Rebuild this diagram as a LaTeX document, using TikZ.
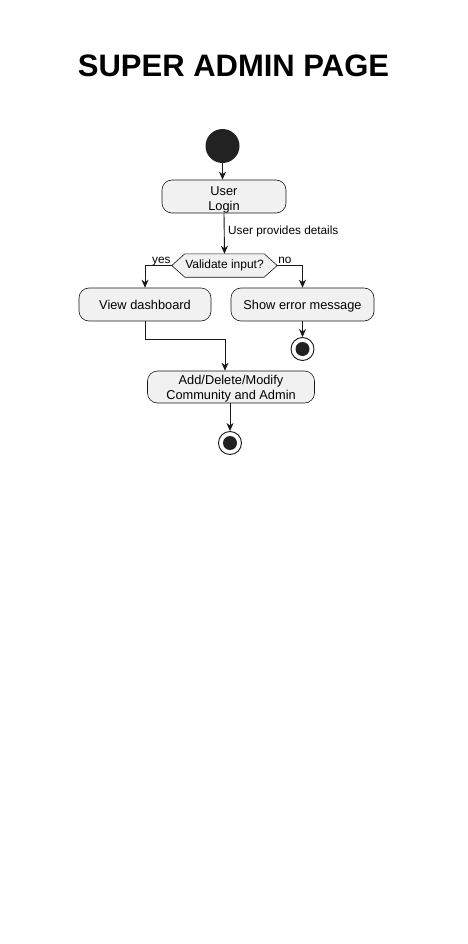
\documentclass[tikz,border=0pt]{standalone}
\usepackage{fontspec}
\setmainfont{Liberation Sans}
\usetikzlibrary{arrows.meta}
\definecolor{linec}{HTML}{181818}
\definecolor{boxfill}{HTML}{F1F1F1}
\definecolor{dotc}{HTML}{222222}
\newcommand{\mlines}[2]{\raisebox{#1}[\height][\depth]{\begin{tabular}{@{}c@{}}#2\end{tabular}}}
\begin{document}
\begin{tikzpicture}[x=1pt,y=-1pt,
  act/.style={draw=linec, fill=boxfill, rounded corners=10pt, line width=0.6pt, inner sep=0pt,
              font=\fontsize{12.8}{15}\selectfont},
  lbl/.style={font=\fontsize{11.8}{13}\selectfont, inner sep=1pt},
  arr/.style={draw=linec, line width=0.9pt, -{Stealth[length=8pt,width=7pt,inset=2.5pt]}},
  conn/.style={draw=linec, line width=0.9pt},
  endouter/.style={circle, draw=linec, line width=0.9pt, fill=white, minimum size=23pt, inner sep=0pt},
  endinner/.style={circle, fill=dotc, minimum size=14pt, inner sep=0pt}]
\useasboundingbox[fill=white] (0,0) rectangle (467,944);
\node[font=\bfseries\fontsize{31}{36}\selectfont] (title) at (233.5,66) {SUPER ADMIN PAGE};
\node[circle, fill=dotc, minimum size=34pt, inner sep=0pt] (start) at (222.5,146) {};
\node[act, minimum width=124pt, minimum height=33pt] (login) at (224,196.5) {\mlines{-3pt}{User\\Login}};
\node[minimum width=105pt, minimum height=23pt, inner sep=0pt] (dec) at (224.5,265.5) {};
\draw[draw=linec, fill=boxfill, line width=0.6pt]
  (dec.west) -- ([xshift=13pt]dec.north west) -- ([xshift=-13pt]dec.north east) -- (dec.east)
  -- ([xshift=-13pt]dec.south east) -- ([xshift=13pt]dec.south west) -- cycle;
\node[font=\fontsize{12}{14}\selectfont, inner sep=0pt] (dectext) at (dec.center) {Validate input?};
\node[act, minimum width=132pt, minimum height=33pt] (view) at (145,304.5) {\mlines{-1.5pt}{View dashboard}};
\node[act, minimum width=143pt, minimum height=33pt] (err) at (302.5,304.5) {\mlines{-1.5pt}{Show error message}};
\node[endouter] (end1) at (302.5,349) {};
\node[endinner] (end1dot) at (end1.center) {};
\node[act, minimum width=167pt, minimum height=32pt] (add) at (231,387) {\mlines{-2pt}{Add/Delete/Modify\\Community and Admin}};
\node[endouter] (end2) at (230,443) {};
\node[endinner] (end2dot) at (end2.center) {};
\coordinate (j) at (225,339);
\draw[arr] (start.south) -- (start.south |- login.north);
\draw[arr] (login.south) -- (dec.north);
\node[lbl, anchor=west] (cond) at (227,231) {User provides details};
\draw[arr] (dec.west) -| (view.north);
\draw[arr] (dec.east) -| (err.north);
\node[lbl, anchor=base east] (yes) at ([yshift=2.5pt]dec.west) {yes};
\node[lbl, anchor=base west] (no) at ([yshift=2.5pt]dec.east) {no};
\draw[arr] (err.south) -- (end1.north);
\draw[conn] (view.south) |- (j);
\draw[arr] (j) -- (j |- add.north);
\draw[arr] (add.south -| end2) -- (end2.north);
\end{tikzpicture}
\end{document}
